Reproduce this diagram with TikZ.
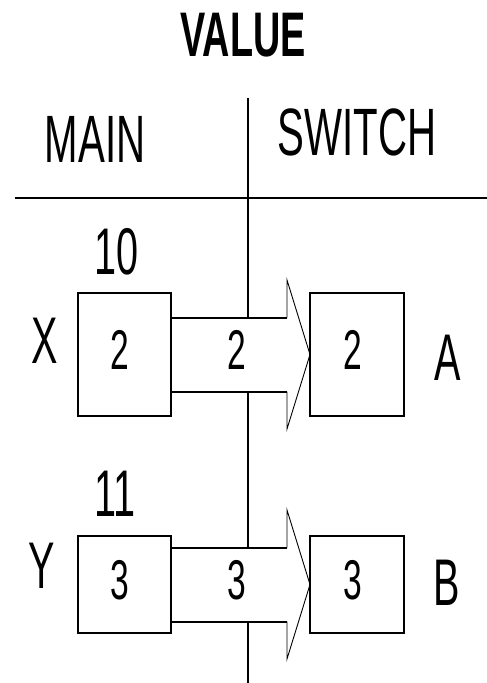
\documentclass[tikz,border=0pt]{standalone}
\usepackage{fontspec}
\setmainfont{Liberation Sans}
\usetikzlibrary{calc}
\newcommand{\nrw}[1]{\scalebox{0.6}[1]{#1}}
\begin{document}
\begin{tikzpicture}[x=1pt,y=-1pt,
  titletxt/.style={inner sep=0pt, font=\fontsize{63}{63}\selectfont\bfseries},
  headtxt/.style={inner sep=0pt, font=\fontsize{67}{67}\selectfont},
  lbltxt/.style={inner sep=0pt, font=\fontsize{66}{66}\selectfont},
  digtxt/.style={inner sep=0pt, font=\fontsize{56}{56}\selectfont},
  box/.style={draw, line width=2pt, inner sep=0pt, outer sep=0pt},
  shaft/.style={line width=2pt},
  headline/.style={line width=0.9pt, line join=miter},
  divider/.style={line width=2pt}]
\useasboundingbox (0,0) rectangle (487,683);
% headings
\node[titletxt] (title) at (243,35) {\nrw{VALUE}};
\node[headtxt] (main) at (95,139) {\nrw{MAIN}};
\node[headtxt] (switch) at (357,132) {\nrw{SWITCH}};
% boxes
\node[box, minimum width=93pt, minimum height=123pt] (bx) at (124.5,354.5) {};
\node[box, minimum width=94pt, minimum height=123pt] (ba) at (357,354.5) {};
\node[box, minimum width=93pt, minimum height=97pt] (by) at (124.5,584.5) {};
\node[box, minimum width=94pt, minimum height=97pt] (bb) at (357,584.5) {};
\node[digtxt] (dx) at (120,350) {\nrw{2}};
\node[digtxt] (da) at (353,350) {\nrw{2}};
\node[digtxt] (dy) at (120,580) {\nrw{3}};
\node[digtxt] (db) at (353,580) {\nrw{3}};
% side labels
\node[lbltxt] (n10) at (117,252) {\nrw{10}};
\node[lbltxt] (n11) at (115,494) {\nrw{11}};
\node[lbltxt] (lx) at (45,341) {\nrw{X}};
\node[lbltxt] (ly) at (42,566) {\nrw{Y}};
\node[lbltxt] (la) at (448,358) {\nrw{A}};
\node[lbltxt] (lb) at (447,583) {\nrw{B}};
% fat arrows
\foreach \s/\t/\k in {bx/ba/1, by/bb/2}{
  \coordinate (p\k t) at ($(\s.east)+(0,-37)$);
  \coordinate (p\k b) at ($(\s.east)+(0,37)$);
  \coordinate (h\k) at ($(\t.west)+(-23,0)$);
  \draw[shaft] (p\k t) -- (p\k t -| h\k);
  \draw[shaft] (p\k b) -- (p\k b -| h\k);
  \draw[headline] (p\k t -| h\k) -- ($(h\k)+(0,-74.5)$) -- (\t.west) -- ($(h\k)+(0,74.5)$) -- (p\k b -| h\k);
}
\node[digtxt] (m1) at (237,350) {\nrw{2}};
\node[digtxt] (m2) at (237,580) {\nrw{3}};
% dividers
\coordinate (vtop) at (248,98);
\coordinate (vbot) at (248,683);
\coordinate (hl) at (15,198);
\coordinate (hr) at (487,198);
\draw[divider, line width=2.5pt] (hl) -- (hr);
\draw[divider] (vtop) -- (vtop |- p1t);
\draw[divider] (vtop |- p1b) -- (vtop |- p2t);
\draw[divider] (vtop |- p2b) -- (vbot);
\end{tikzpicture}
\end{document}
